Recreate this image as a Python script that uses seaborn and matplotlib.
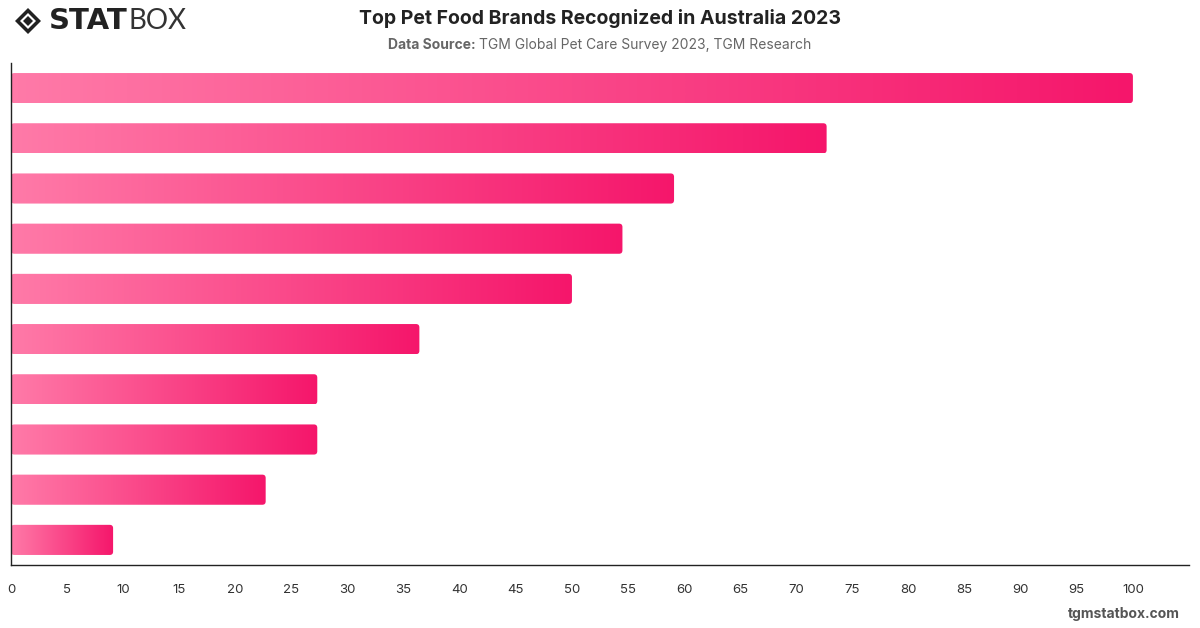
import numpy as np
import pandas as pd
import matplotlib
matplotlib.use("Agg")
import matplotlib.pyplot as plt
import seaborn as sns
from matplotlib.patches import FancyBboxPatch, Polygon
from matplotlib.colors import LinearSegmentedColormap

# ---- data ----
brands = ["Brand 1", "Brand 2", "Brand 3", "Brand 4", "Brand 5",
          "Brand 6", "Brand 7", "Brand 8", "Brand 9", "Brand 10"]
recognition = [100.0, 72.7, 59.1, 54.5, 50.0, 36.4, 27.3, 27.3, 22.7, 9.1]
x_ticks = list(range(0, 101, 5))

title = "Top Pet Food Brands Recognized in Australia 2023"
source_label = "Data Source:"
source_text = "TGM Global Pet Care Survey 2023, TGM Research"

df = pd.DataFrame({"brand": brands, "value": recognition})

sns.set_theme(style="white")
plt.rcParams["font.family"] = ["Inter", "DejaVu Sans"]

fig = plt.figure(figsize=(12, 6.28), dpi=100)
ax = fig.add_axes([11 / 1200, 1 - 565 / 628, (1189 - 11) / 1200, (565 - 63) / 628])

sns.barplot(data=df, x="value", y="brand", orient="h", ax=ax,
            width=0.6, color="#F5156A", linewidth=0)

ax.set_xlim(0, 105)
ax.set_ylim(len(brands) - 0.5, -0.5)

cmap = LinearSegmentedColormap.from_list("pink", ["#FF7AA8", "#F5166B"])
grad = np.linspace(0, 1, 256).reshape(1, -1)

# pixel scales for rounded corners
x_px = (1189 - 11) / 105.0
y_px = (565 - 63) / len(brands)
aspect = x_px / y_px

for p in list(ax.patches):
    x0, y0 = p.get_x(), p.get_y()
    w, h = p.get_width(), p.get_height()
    p.set_visible(False)
    clip = FancyBboxPatch((x0, y0), w, h,
                          boxstyle="round,pad=0,rounding_size=0.3",
                          mutation_aspect=aspect,
                          transform=ax.transData, facecolor="none",
                          edgecolor="none")
    ax.add_patch(clip)
    im = ax.imshow(grad, cmap=cmap, aspect="auto",
                   extent=[x0, x0 + w, y0 + h, y0], interpolation="bicubic",
                   zorder=2)
    im.set_clip_path(clip)

ax.set_xlim(0, 105)
ax.set_ylim(len(brands) - 0.5, -0.5)

ax.set_xticks(x_ticks)
ax.set_xticklabels([str(t) for t in x_ticks], fontsize=9.5, color="#333333")
ax.tick_params(axis="x", length=0, pad=14)
ax.set_yticks([])
ax.set_xlabel("")
ax.set_ylabel("")
for s in ["top", "right"]:
    ax.spines[s].set_visible(False)
for s in ["left", "bottom"]:
    ax.spines[s].set_color("#222222")
    ax.spines[s].set_linewidth(1.0)
ax.grid(False)

# ---- titles ----
fig.text(0.5, 1 - 18 / 628, title, ha="center", va="center",
         fontsize=14, fontweight="bold", color="#222222")
t1 = fig.text(0.5, 1 - 45 / 628, source_label + " ", ha="right", va="center",
              fontsize=10, fontweight="bold", color="#666666")
fig.canvas.draw()
r = fig.canvas.get_renderer()
bb1 = t1.get_window_extent(r)
t2 = fig.text(0.5, 1 - 45 / 628, source_text, ha="left", va="center",
              fontsize=10, color="#666666")
bb2 = t2.get_window_extent(r)
total = bb1.width + bb2.width
start = 600 - total / 2
t1.set_position(((start + bb1.width) / 1200, 1 - 45 / 628))
t2.set_position(((start + bb1.width) / 1200, 1 - 45 / 628))

# ---- logo ----
cx, cy = 28 / 1200, 1 - 21 / 628
dx, dy = 13 / 1200, 13 / 628
outer = Polygon([[cx - dx, cy], [cx, cy + dy], [cx + dx, cy], [cx, cy - dy]],
                closed=True, transform=fig.transFigure, facecolor="#222222",
                edgecolor="none")
fig.patches.append(outer)
ix, iy = 8 / 1200, 8 / 628
inner_w = Polygon([[cx - ix, cy], [cx, cy + iy], [cx + ix, cy], [cx, cy - iy]],
                  closed=True, transform=fig.transFigure, facecolor="white",
                  edgecolor="none")
fig.patches.append(inner_w)
jx, jy = 5 / 1200, 5 / 628
inner_b = Polygon([[cx - jx, cy], [cx, cy + jy], [cx + jx, cy], [cx, cy - jy]],
                  closed=True, transform=fig.transFigure, facecolor="#222222",
                  edgecolor="none")
fig.patches.append(inner_b)

ts = fig.text(49 / 1200, 1 - 21 / 628, "STAT", ha="left", va="center",
              fontsize=21, fontweight="black", color="#222222",
              family=["DejaVu Sans"])
fig.canvas.draw()
bbs = ts.get_window_extent(fig.canvas.get_renderer())
fig.text((bbs.x1 + 1) / 1200, 1 - 21 / 628, "BOX", ha="left", va="center",
         fontsize=20, fontweight="normal", color="#333333", stretch="condensed",
         family=["Liberation Sans Narrow", "Lato", "DejaVu Sans"])

# ---- footer ----
fig.text(1180 / 1200, 1 - 614 / 628, "tgmstatbox.com", ha="right", va="center",
         fontsize=10, fontweight="bold", color="#555555")

fig.savefig("out.png", dpi=100)
